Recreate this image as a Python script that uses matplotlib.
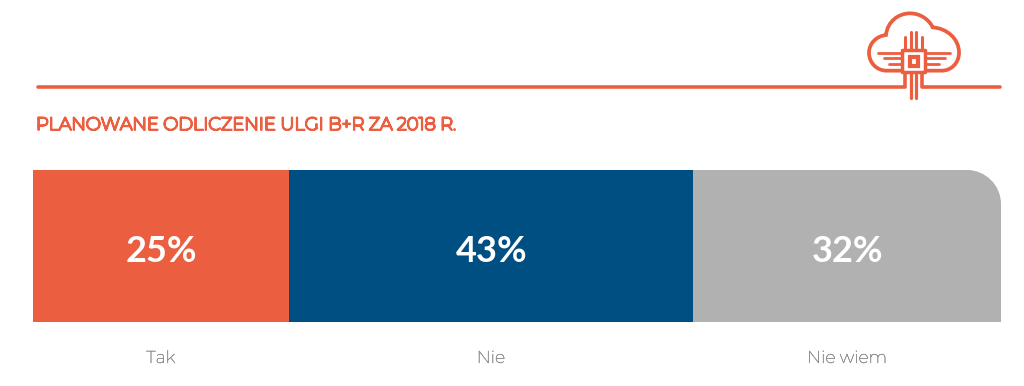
"""
Stacked single bar: planned R&D relief deduction, with cloud/chip header icon
"""
import matplotlib.pyplot as plt
import matplotlib.patheffects as pe
from matplotlib.path import Path
from matplotlib.patches import PathPatch

categories = ['Tak', 'Nie', 'Nie wiem']
value_labels = ['25%', '43%', '32%']
# segment widths as drawn in the picture, in % of the bar
widths = [26.4, 41.8, 31.8]
title = 'PLANOWANE ODLICZENIE ULGI B+R ZA 2018 R.'

ORANGE = '#EB5F40'
BLUE = '#004F82'
GRAY = '#B1B1B1'
LABEL = '#8C8C8C'
colors = [ORANGE, BLUE, GRAY]

W, H = 1024, 386
fig = plt.figure(figsize=(W / 100, H / 100), dpi=100, facecolor='white')

# bar axes, 0-100 %
BX0, BX1, BY0, BY1 = 33, 1001, 170, 322
ax = fig.add_axes([BX0 / W, 1 - BY1 / H, (BX1 - BX0) / W, (BY1 - BY0) / H])
ax.set_xlim(0, 100)
ax.set_ylim(0, 1)
ax.axis('off')

# pixel canvas for the header and the labels, on top of the bars
deco = fig.add_axes([0, 0, 1, 1], zorder=2)
deco.set_xlim(0, W)
deco.set_ylim(H, 0)
deco.axis('off')

left = 0
bars = []
for cat, w, c, lab in zip(categories, widths, colors, value_labels):
    b = ax.barh(0.5, w, height=1, left=left, color=c, linewidth=0, antialiased=False)[0]
    bars.append(b)
    mid = BX0 + (left + w / 2) / 100 * (BX1 - BX0)
    deco.text(mid + 1, 252, lab, ha='center', va='center', color='white', fontsize=26,
              fontweight='bold', family=['Lato', 'Liberation Sans'])
    t = deco.text(mid, 358, cat, ha='center', va='center', color=LABEL, fontsize=12.4,
                  family=['Montserrat', 'Lato', 'DejaVu Sans'])
    t.set_path_effects([pe.withStroke(linewidth=0.3, foreground=LABEL)])
    left += w

# rounded top right corner of the last segment
r = 34
k = 0.55 * r
x0 = BX0 + (100 - widths[2]) / 100 * (BX1 - BX0) - 2
corner = Path([(x0, BY0), (BX1 - r, BY0), (BX1 - r + k, BY0), (BX1, BY0 + r - k), (BX1, BY0 + r),
               (BX1, BY1), (x0, BY1), (x0, BY0)],
              [Path.MOVETO, Path.LINETO, Path.CURVE4, Path.CURVE4, Path.CURVE4,
               Path.LINETO, Path.LINETO, Path.CLOSEPOLY])
bars[2].set_clip_path(corner, deco.transData)

tt = deco.text(36, 125, title, ha='left', va='center', color=ORANGE, fontsize=12.85,
               family=['Montserrat', 'Lato', 'DejaVu Sans'])
tt.set_path_effects([pe.withStroke(linewidth=1.4, foreground=ORANGE)])


# icon, points taken from the zoomed crop (3x, offset 850,0)
def z(x, y):
    return 850 + x / 3, y / 3


def stroke(pts, lw=2.6):
    xs, ys = zip(*[z(*p) for p in pts])
    deco.plot(xs, ys, color=ORANGE, lw=lw, solid_capstyle='round', solid_joinstyle='round')


stroke([(-2436, 261), (165, 261), (165, 222)])
stroke([(216, 222), (216, 261), (450, 261)])
for x in (183, 199):
    stroke([(x, 222), (x, 293)], 2.3)
stroke([(165, 148), (165, 112)], 2.2)
stroke([(216, 148), (216, 112)], 2.2)
stroke([(183, 148), (183, 96)], 2.2)
stroke([(199, 148), (199, 96)], 2.2)
for y, a, b in [(158, 84, 300), (175, 102, 284), (193, 117, 268)]:
    stroke([(a, y), (155, y)], 2.0)
    stroke([(228, y), (b, y)], 2.0)

cloud = [(155, 212), (110, 212), (80, 212), (57, 188), (57, 158), (57, 130), (80, 108), (108, 105),
         (112, 65), (145, 40), (180, 40), (212, 40), (238, 60), (248, 82), (290, 85), (327, 115), (327, 158),
         (327, 190), (303, 212), (275, 212), (228, 212)]
codes = [Path.MOVETO, Path.LINETO] + [Path.CURVE4] * 18 + [Path.LINETO]
deco.add_patch(PathPatch(Path([z(*p) for p in cloud], codes), fill=False, edgecolor=ORANGE, lw=2.7, capstyle='round'))

chip = [(157, 150), (226, 150), (226, 215), (157, 215), (157, 150)]
deco.add_patch(PathPatch(Path([z(*p) for p in chip], closed=True), facecolor='white', edgecolor=ORANGE, lw=2.5,
                         joinstyle='round', zorder=3))
inner = [(180, 172), (205, 172), (205, 197), (180, 197), (180, 172)]
deco.add_patch(PathPatch(Path([z(*p) for p in inner], closed=True), facecolor='white', edgecolor=ORANGE, lw=3.0,
                         zorder=4))

fig.savefig('out.png', dpi=100, facecolor='white')
plt.close()
